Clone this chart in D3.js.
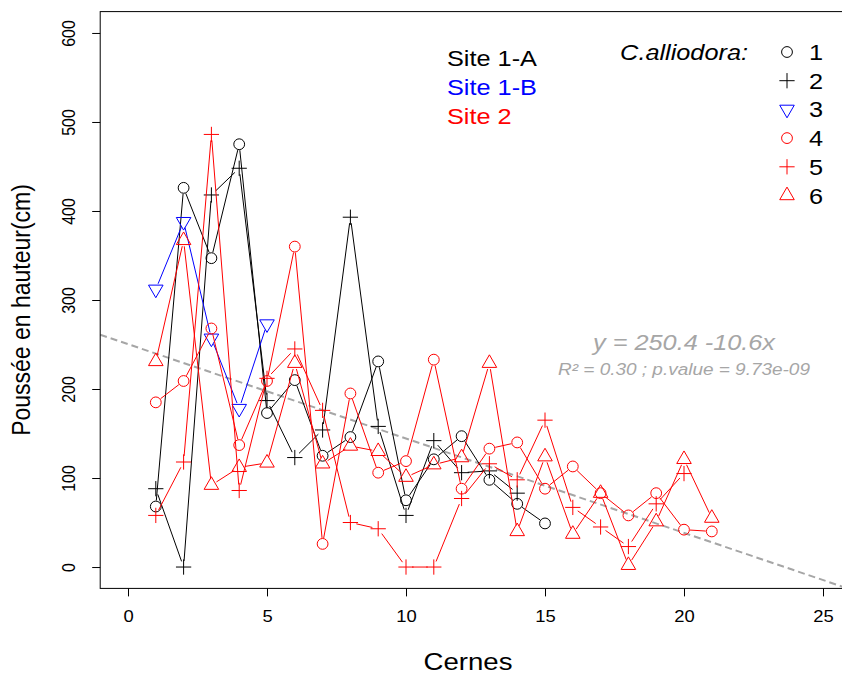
<!DOCTYPE html>
<html>
<head>
<meta charset="utf-8">
<script src="https://cdnjs.cloudflare.com/ajax/libs/d3/7.8.5/d3.min.js"></script>
<style>
  html, body { margin: 0; padding: 0; background: #fff; }
  svg { display: block; font-family: "Liberation Sans", Arial, sans-serif; }
</style>
</head>
<body>
<svg id="chart" width="842" height="674"></svg>
<script>
// ---- data ----
const cernes = [1,2,3,4,5,6,7,8,9,10,11,12,13,14,15,16,17,18,19,20,21];
const tree1 = [68, 426, 347, 475, 173, 210, 125, 146, 231, 75, 121, 147, 98, 71, 49];
const tree2 = [88, 0, 418, 448, 187, 123, 154, 393, 158, 58, 142, 106, 108, 83];
const tree3 = [312, 388, 257, 178, 273];
const tree4 = [185, 209, 268, 137, 209, 360, 26, 195, 106, 119, 233, 88, 133, 140, 88, 113, 83, 58, 83, 42, 40];
const tree5 = [58, 118, 486, 86, 212, 245, 176, 50, 43, 0, 0, 77, 116, 98, 165, 67, 45, 23, 71, 105];
const tree6 = [231, 367, 92, 112, 117, 229, 116, 136, 130, 101, 115, 123, 229, 40, 124, 37, 83, 2, 51, 121, 55];
const treeNames = ["1", "2", "3", "4", "5", "6"];
const treeSymbols = ["circle", "plus", "triangleDown", "circle", "plus", "triangleUp"];
const treeColors = ["#000000", "#000000", "#0000FF", "#FF0000", "#FF0000", "#FF0000"];
const siteNames = ["Site 1-A", "Site 1-B", "Site 2"];
const siteColors = ["#000000", "#0000FF", "#FF0000"];
const xTicks = [0, 5, 10, 15, 20, 25];
const yTicks = [0, 100, 200, 300, 400, 500, 600];
const regIntercept = 250.4, regSlope = -10.6;
const regLabel = "y = 250.4 -10.6x";
const statLabel = "R\u00B2 = 0.30 ; p.value = 9.73e-09";
const xTitle = "Cernes";
const yTitle = "Poussée en hauteur(cm)";
const legendTitle = "C.alliodora:";

const series = [tree1, tree2, tree3, tree4, tree5, tree6].map((vals, i) => ({
  name: treeNames[i], symbol: treeSymbols[i], color: treeColors[i],
  points: vals.map((v, j) => ({ x: cernes[j], y: v }))
}));

// ---- layout ----
const svg = d3.select("#chart");
const x = d3.scaleLinear().domain([-1, 26]).range([100.2, 850.8]);
const y = d3.scaleLinear().domain([-24, 624]).range([588.4, 11.6]);
const R = 5.4;          // symbol radius
const GAP = 6;          // type="b" gap
const GRAY = "#A6A6A6";
const SX = 1.15;        // horizontal text stretch of the original rendering
const FONT = "Liberation Sans, Arial, sans-serif";

function symbolPath(kind) {
  const TRC0 = Math.sqrt(4 * Math.PI / (3 * Math.sqrt(3)));
  const TRC1 = TRC0 * Math.sqrt(3) / 2, TRC2 = TRC0 / 2;
  if (kind === "plus") {
    const c = Math.SQRT2 * R;
    return `M${-c},0H${c}M0,${-c}V${c}`;
  }
  if (kind === "triangleUp") {
    const r = TRC0 * R, yc = TRC2 * R, xc = TRC1 * R;
    return `M0,${-r}L${xc},${yc}L${-xc},${yc}Z`;
  }
  if (kind === "triangleDown") {
    const r = TRC0 * R, yc = TRC2 * R, xc = TRC1 * R;
    return `M0,${r}L${xc},${-yc}L${-xc},${-yc}Z`;
  }
  return `M${R},0A${R},${R} 0 1,1 ${-R},0A${R},${R} 0 1,1 ${R},0Z`;
}

// horizontal text with stretched glyphs
function htext(px, py, str, size, opts = {}) {
  const t = svg.append("text")
    .attr("transform", `translate(${px},${py}) scale(${SX},1)`)
    .attr("font-size", size).attr("font-family", FONT)
    .attr("fill", opts.fill || "#000")
    .attr("text-anchor", opts.anchor || "start")
    .text(str);
  if (opts.italic) t.attr("font-style", "italic");
  return t;
}

const clipId = "plotclip";
svg.append("clipPath").attr("id", clipId).append("rect")
  .attr("x", x(-1)).attr("y", y(624)).attr("width", x(26) - x(-1)).attr("height", y(-24) - y(624));

// regression line (abline, clipped)
svg.append("line")
  .attr("clip-path", `url(#${clipId})`)
  .attr("x1", x(-1)).attr("y1", y(regIntercept + regSlope * -1))
  .attr("x2", x(26)).attr("y2", y(regIntercept + regSlope * 26))
  .attr("stroke", GRAY).attr("stroke-width", 2).attr("stroke-dasharray", "7,4");

// series: lines with gaps (type = "b") then symbols
series.forEach(s => {
  const g = svg.append("g");
  const pts = s.points.map(p => [x(p.x), y(p.y)]);
  for (let i = 0; i < pts.length - 1; i++) {
    const [x0, y0] = pts[i], [x1, y1] = pts[i + 1];
    const d = Math.hypot(x1 - x0, y1 - y0);
    if (d <= 2 * GAP) continue;
    const ux = (x1 - x0) / d, uy = (y1 - y0) / d;
    g.append("line")
      .attr("x1", x0 + ux * GAP).attr("y1", y0 + uy * GAP)
      .attr("x2", x1 - ux * GAP).attr("y2", y1 - uy * GAP)
      .attr("stroke", s.color).attr("stroke-width", 1);
  }
  g.selectAll("path.pt").data(s.points).join("path")
    .attr("class", "pt")
    .attr("transform", p => `translate(${x(p.x)},${y(p.y)})`)
    .attr("d", symbolPath(s.symbol))
    .attr("fill", "none").attr("stroke", s.color).attr("stroke-width", 1);
});

// box
svg.append("rect")
  .attr("x", x(-1)).attr("y", y(624)).attr("width", x(26) - x(-1)).attr("height", y(-24) - y(624))
  .attr("fill", "none").attr("stroke", "#000").attr("stroke-width", 1);

// axes
const xAxis = d3.axisBottom(x).tickValues(xTicks).tickSize(8).tickPadding(14).tickFormat(d3.format("d"));
const gx = svg.append("g").attr("transform", `translate(0,${y(-24)})`).call(xAxis);
gx.select(".domain").remove();
gx.selectAll("line").attr("stroke", "#000");
gx.selectAll("text")
  .attr("font-size", 16).attr("fill", "#000").attr("font-family", FONT)
  .attr("transform", `scale(${SX},1)`)
  .attr("x", 0);

const yAxis = d3.axisLeft(y).tickValues(yTicks).tickSize(8).tickPadding(0).tickFormat(d3.format("d"));
const gy = svg.append("g").attr("transform", `translate(${x(-1)},0)`).call(yAxis);
gy.select(".domain").remove();
gy.selectAll("line").attr("stroke", "#000");
gy.selectAll("text")
  .attr("font-size", 16).attr("fill", "#000").attr("font-family", FONT)
  .attr("x", 0).attr("y", 0).attr("dy", null)
  .attr("text-anchor", "middle")
  .attr("transform", `translate(${75 - x(-1)},0) scale(${SX},1) rotate(-90)`);

// axis titles
htext(468, 670, xTitle, 24, { anchor: "middle" });
svg.append("text")
  .attr("transform", `translate(30,310) scale(${SX},1) rotate(-90)`)
  .attr("text-anchor", "middle").attr("font-family", FONT)
  .attr("font-size", 23).text(yTitle);

// regression annotation
htext(684, 350, regLabel, 22, { anchor: "middle", italic: true, fill: GRAY });
htext(684, 375, statLabel, 16.5, { anchor: "middle", italic: true, fill: GRAY });

// site legend
siteNames.forEach((n, i) => {
  htext(447, 66 + i * 29, n, 22, { fill: siteColors[i] });
});

// tree legend
htext(748, 60, legendTitle, 22, { anchor: "end", italic: true });
series.forEach((s, i) => {
  const cy = 52 + i * 28.7;
  svg.append("path").attr("transform", `translate(787,${cy})`).attr("d", symbolPath(s.symbol))
    .attr("fill", "none").attr("stroke", s.color).attr("stroke-width", 1);
  htext(809, cy + 8, s.name, 22);
});
</script>
</body>
</html>
